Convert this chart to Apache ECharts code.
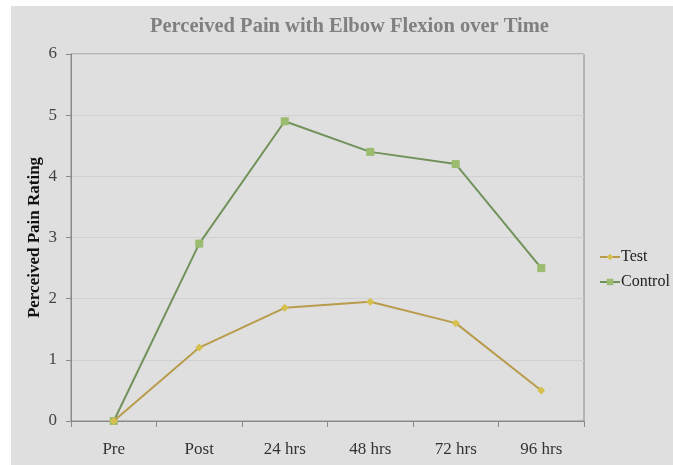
<!DOCTYPE html>
<html>
<head>
<meta charset="utf-8">
<script src="https://cdn.jsdelivr.net/npm/echarts@6/dist/echarts.min.js"></script>
<style>
  html, body { margin: 0; padding: 0; background: #ffffff; }
  #frame { position: absolute; left: 11px; top: 6px; width: 662px; height: 459px; background: #dfdfdf; }
  #chart { position: absolute; left: 0; top: 0; width: 673px; height: 465px; }
</style>
</head>
<body>
<div id="frame"></div>
<div id="chart"></div>
<script>
// Time points and mean perceived pain ratings
const timePoints = ['Pre', 'Post', '24 hrs', '48 hrs', '72 hrs', '96 hrs'];
const testRatings = [0, 1.2, 1.85, 1.95, 1.6, 0.5];
const controlRatings = [0, 2.9, 4.9, 4.4, 4.2, 2.5];
const ratingTicks = [0, 1, 2, 3, 4, 5, 6];

const serif = '"Liberation Serif", "DejaVu Serif", serif';

const chart = echarts.init(document.getElementById('chart'), null, { renderer: 'canvas' });

chart.setOption({
  backgroundColor: 'transparent',
  animation: false,
  title: {
    text: 'Perceived Pain with Elbow Flexion over Time',
    left: 145,
    top: 11,
    textStyle: { fontFamily: serif, fontSize: 20.5, fontWeight: 'bold', color: '#808080' }
  },
  grid: {
    left: 71, right: 89, top: 54, bottom: 44,
    show: true, borderColor: '#8a8a8a', borderWidth: 1, backgroundColor: 'transparent'
  },
  legend: {
    orient: 'vertical',
    left: 594,
    top: 244,
    itemWidth: 20,
    itemHeight: 8,
    itemGap: 9,
    textStyle: { fontFamily: serif, fontSize: 16, color: '#222', padding: [0, 0, 0, -4] },
    data: ['Test', 'Control']
  },
  xAxis: {
    type: 'category',
    data: timePoints,
    boundaryGap: true,
    axisLine: { lineStyle: { color: '#8a8a8a', width: 1 } },
    axisTick: { show: true, length: 6, inside: false, lineStyle: { color: '#8a8a8a' } },
    axisLabel: { fontFamily: serif, fontSize: 17, color: '#333', margin: 20 },
    splitLine: { show: false }
  },
  yAxis: {
    type: 'value',
    min: ratingTicks[0],
    max: ratingTicks[ratingTicks.length - 1],
    interval: 1,
    name: 'Perceived Pain Rating',
    nameLocation: 'middle',
    nameGap: 28,
    nameMoveOverlap: false,
    nameTextStyle: { fontFamily: serif, fontSize: 17, fontWeight: 'bold', color: '#111' },
    axisLine: { show: true, lineStyle: { color: '#8a8a8a', width: 1 } },
    axisTick: { show: true, length: 5, lineStyle: { color: '#8a8a8a' } },
    axisLabel: { fontFamily: serif, fontSize: 17, color: '#444', margin: 14 },
    splitLine: { show: true, lineStyle: { color: '#d0d0d0', width: 1 } }
  },
  series: [
    {
      name: 'Test',
      type: 'line',
      data: testRatings,
      symbol: 'diamond',
      symbolSize: 8,
      lineStyle: { color: '#b89c4c', width: 2 },
      itemStyle: { color: '#d6c04e', borderWidth: 0 },
      z: 3
    },
    {
      name: 'Control',
      type: 'line',
      data: controlRatings,
      symbol: 'rect',
      symbolSize: 8,
      lineStyle: { color: '#71925a', width: 2 },
      itemStyle: { color: '#9bbb6e', borderWidth: 0 },
      z: 2
    }
  ]
});
</script>
</body>
</html>
